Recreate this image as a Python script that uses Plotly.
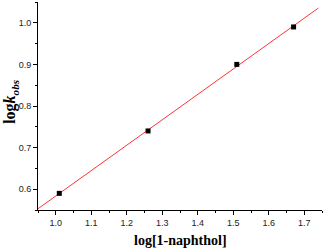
import numpy as np
import plotly.graph_objects as go

log_naphthol = [1.01, 1.26, 1.51, 1.67]
log_kobs = [0.59, 0.74, 0.90, 0.99]
x_ticks = [1.0, 1.1, 1.2, 1.3, 1.4, 1.5, 1.6, 1.7]
y_ticks = [0.6, 0.7, 0.8, 0.9, 1.0]

slope, intercept = np.polyfit(log_naphthol, log_kobs, 1)
fit_x = np.array([0.95, 1.74])
fit_y = slope * fit_x + intercept

fig = go.Figure()
fig.add_trace(go.Scatter(x=fit_x, y=fit_y, mode="lines",
                         line=dict(color="#ff3333", width=1), showlegend=False))
fig.add_trace(go.Scatter(x=log_naphthol, y=log_kobs, mode="markers",
                         marker=dict(symbol="square", size=5, color="black"),
                         showlegend=False))

tickfont = dict(family="Liberation Sans, Arial", size=9, color="#222")
titlefont = dict(family="Liberation Serif, Times New Roman", size=14, color="black")
ytitlefont = dict(family="Liberation Serif, Times New Roman", size=16, color="black")
fig.update_layout(
    width=323, height=248,
    margin=dict(l=38, r=1, t=2, b=38, autoexpand=False),
    plot_bgcolor="white", paper_bgcolor="white",
    xaxis=dict(range=[0.95, 1.75], tickvals=x_ticks, ticktext=[f"{v:.1f}" for v in x_ticks],
               showgrid=False, zeroline=False, showline=True, linecolor="black", linewidth=1,
               ticks="outside", ticklen=4, tickcolor="black", tickfont=tickfont, automargin=False,
               minor=dict(dtick=0.05, tick0=0.95, ticks="outside", ticklen=2, tickcolor="black")),
    yaxis=dict(range=[0.55, 1.05], tickvals=y_ticks, ticktext=[f"{v:.1f}" for v in y_ticks],
               showgrid=False, zeroline=False, showline=True, linecolor="black", linewidth=1,
               ticks="outside", ticklen=4, tickcolor="black", tickfont=tickfont, automargin=False,
               minor=dict(dtick=0.05, tick0=0.55, ticks="outside", ticklen=2, tickcolor="black")),
    annotations=[
        dict(text="<b>log[1-naphthol]</b>", xref="paper", yref="paper", x=0.5, y=-0.145,
             xanchor="center", yanchor="middle", showarrow=False, font=titlefont),
        dict(text="<b>log<i>k</i><sub><i>obs</i></sub></b>", xref="paper", yref="paper",
             x=-0.095, y=0.52, xanchor="center", yanchor="middle", textangle=-90,
             showarrow=False, font=ytitlefont),
    ],
)
fig.write_html("out.html", config={"displayModeBar": False},
               post_script="document.body.style.margin='0';")
